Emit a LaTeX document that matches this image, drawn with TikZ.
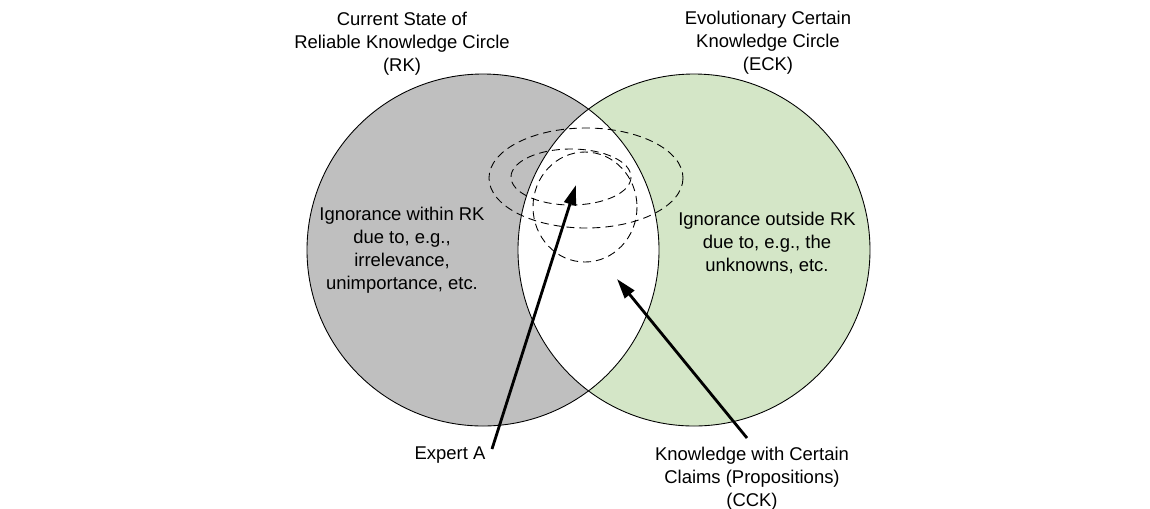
\documentclass[tikz,border=0pt]{standalone}
\usepackage{fontspec}
\setmainfont{Liberation Sans}
\usetikzlibrary{arrows.meta}
\definecolor{rkgray}{RGB}{191,191,191}
\definecolor{eckgreen}{RGB}{212,230,199}
\begin{document}
\begin{tikzpicture}[x=0.2mm,y=-0.2mm,
    labeltext/.style={align=center,font=\fontsize{10.5}{13.1}\selectfont},
    rim/.style={draw=black,line width=0.5pt},
    zone/.style={line width=0.5pt,dash pattern=on 1.6mm off 1mm},
    pointer/.style={line width=1.6pt,-{Triangle[length=4mm,width=2.4mm]}}]
                \useasboundingbox (0,0) rectangle (1150,508);
                \coordinate (rk) at (483,250);
                \coordinate (eck) at (694,250);
                \fill[rkgray] (rk) circle (176);
                \fill[eckgreen] (eck) circle (176);
                \begin{scope}
                    \clip (rk) circle (176);
                    \fill[white] (eck) circle (176);
                \end{scope}
                \draw[zone] (586,178) ellipse (97 and 50);
                \draw[zone] (571,177) ellipse (60 and 28);
                \draw[zone] (585,207) ellipse (52 and 55);
                \draw[rim] (rk) circle (176);
                \draw[rim] (eck) circle (176);
                \node[labeltext] (rktitle) at (402,44) {Current State of\\Reliable Knowledge Circle\\(RK)};
                \node[labeltext] (ecktitle) at (768,43) {Evolutionary Certain\\Knowledge Circle\\(ECK)};
                \node[labeltext] (within) at (402,250) {Ignorance within RK\\due to, e.g.,\\irrelevance,\\unimportance, etc.};
                \node[labeltext] (outside) at (767,243) {Ignorance outside RK\\due to, e.g., the\\unknowns, etc.};
                \node[labeltext] (expert) at (450,455) {Expert A};
                \node[labeltext] (cck) at (752,479) {Knowledge with Certain\\Claims (Propositions)\\(CCK)};
                \coordinate (expTail) at (492,449);
                \coordinate (expTip) at (576,185);
                \coordinate (cckTail) at (747,438);
                \coordinate (cckTip) at (617,279);
                \draw[pointer] (expTail) -- (expTip);
                \draw[pointer] (cckTail) -- (cckTip);
            \end{tikzpicture}
\end{document}
